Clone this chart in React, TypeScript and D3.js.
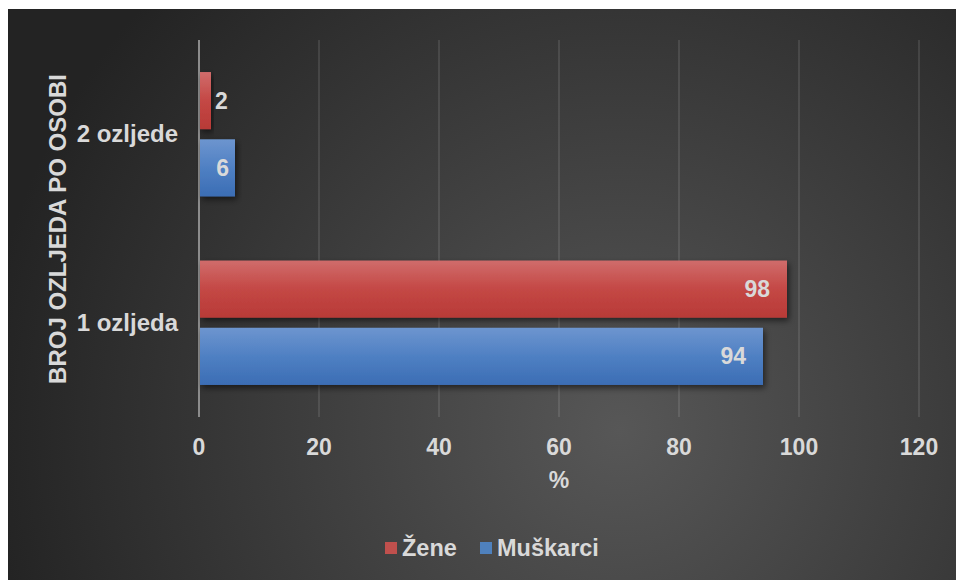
import React from "react";
import * as d3 from "d3";

const categories = ["2 ozljede", "1 ozljeda"];
const seriesNames = ["Žene", "Muškarci"];
const zeneValues = [2, 98];
const muskarciValues = [6, 94];
const xTicks = [0, 20, 40, 60, 80, 100, 120];
const yTitle = "BROJ OZLJEDA PO OSOBI";
const xTitle = "%";

const W = 956;
const H = 580;
const FONT = "'Liberation Sans', Arial, sans-serif";
const TXT = "#d9d9d9";

export default function App() {
  const x = d3.scaleLinear().domain([0, 120]).range([199, 919]);
  const y = d3
    .scaleBand<string>()
    .domain(categories)
    .range([40, 417])
    .paddingInner(0.34)
    .paddingOuter(0.17);
  const sub = d3
    .scaleBand<string>()
    .domain(seriesNames)
    .range([0, y.bandwidth()])
    .paddingInner(0.15);

  const series = [
    { name: seriesNames[0], values: zeneValues, fill: "url(#gRed)", sw: "#c0504d" },
    { name: seriesNames[1], values: muskarciValues, fill: "url(#gBlue)", sw: "#4f81bd" },
  ];

  const legendX = [385, 480];

  return (
    <svg
      width={W}
      height={H}
      style={{ position: "absolute", left: 0, top: 0, fontFamily: FONT }}
    >
      <defs>
        <radialGradient id="bg" gradientUnits="userSpaceOnUse" cx={620} cy={430} r={640}>
          <stop offset="0" stopColor="#575757" />
          <stop offset="1" stopColor="#232323" />
        </radialGradient>
        <linearGradient id="gRed" x1="0" y1="0" x2="0" y2="1">
          <stop offset="0" stopColor="#d06c6b" />
          <stop offset="0.5" stopColor="#c44845" />
          <stop offset="1" stopColor="#b83a37" />
        </linearGradient>
        <linearGradient id="gBlue" x1="0" y1="0" x2="0" y2="1">
          <stop offset="0" stopColor="#6d95cf" />
          <stop offset="0.5" stopColor="#4f80c3" />
          <stop offset="1" stopColor="#3b6db4" />
        </linearGradient>
        <filter id="shadow" x="-20%" y="-30%" width="140%" height="170%">
          <feDropShadow dx="2" dy="3" stdDeviation="3" floodColor="#000" floodOpacity="0.55" />
        </filter>
      </defs>
      <rect x={0} y={0} width={W} height={H} fill="#ffffff" />
      <rect x={8} y={9} width={W - 8} height={H - 9} fill="url(#bg)" />

      {xTicks.map((t) => (
        <line
          key={"g" + t}
          x1={x(t)}
          x2={x(t)}
          y1={40}
          y2={417}
          stroke={t === 0 ? "#8c8c8c" : "rgba(255,255,255,0.1)"}
          strokeWidth={2}
        />
      ))}

      {series.map((s) =>
        categories.map((c, i) => {
          const v = s.values[i];
          const y0 = (y(c) as number) + (sub(s.name) as number);
          const bw = sub.bandwidth();
          const x0 = x(0) + 1;
          const x1 = x(v);
          const w = x1 - x0;
          let lx = x1 - 17;
          let anchor: "start" | "end" | "middle" = "end";
          if (w < 20) {
            lx = x1 + 4;
            anchor = "start";
          } else if (w < 60) {
            lx = x1 - 6;
          }
          return (
            <g key={s.name + c}>
              <rect x={x0} y={y0} width={w} height={bw} fill={s.fill} filter="url(#shadow)" />
              <text
                x={lx}
                y={y0 + bw / 2 + 8}
                textAnchor={anchor}
                fontSize={23}
                fontWeight="bold"
                fill={TXT}
              >
                {v}
              </text>
            </g>
          );
        })
      )}

      {categories.map((c) => (
        <text
          key={c}
          x={178}
          y={(y(c) as number) + y.bandwidth() / 2 + 8}
          textAnchor="end"
          fontSize={24}
          fontWeight="bold"
          fill={TXT}
        >
          {c}
        </text>
      ))}

      {xTicks.map((t) => (
        <text
          key={"t" + t}
          x={x(t)}
          y={454.5}
          textAnchor="middle"
          fontSize={23}
          fontWeight="bold"
          fill={TXT}
        >
          {t}
        </text>
      ))}

      <text x={559} y={488} textAnchor="middle" fontSize={23} fontWeight="bold" fill={TXT}>
        {xTitle}
      </text>

      <text
        transform={`translate(66,229) rotate(-90)`}
        textAnchor="middle"
        fontSize={24}
        fontWeight="bold"
        fill={TXT}
      >
        {yTitle}
      </text>

      {series.map((s, i) => (
        <g key={"l" + s.name}>
          <rect x={legendX[i]} y={542} width={12} height={12} fill={s.sw} />
          <text x={legendX[i] + 17} y={556} fontSize={23.5} fontWeight="bold" fill={TXT}>
            {s.name}
          </text>
        </g>
      ))}
    </svg>
  );
}
